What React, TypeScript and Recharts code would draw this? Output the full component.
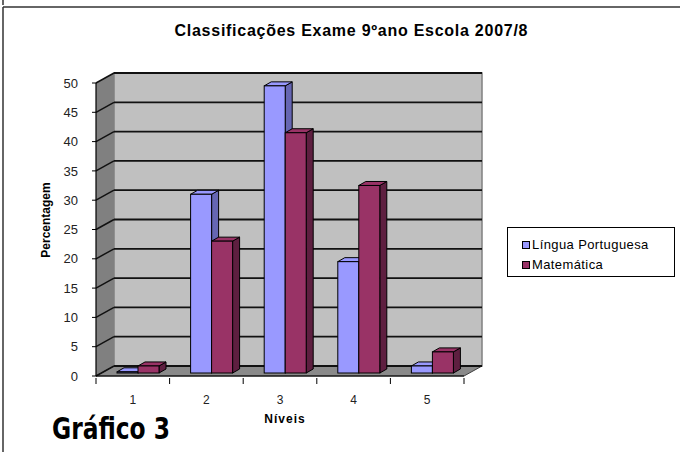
import React from 'react';
import { BarChart, Bar, XAxis, YAxis, CartesianGrid, ReferenceArea, Legend } from 'recharts';

const niveis = ['1', '2', '3', '4', '5'];
const linguaPortuguesa = [0.2, 30.5, 49, 19, 1.2];
const matematica = [1.2, 22.5, 41, 32, 3.6];
const yTicks = [0, 5, 10, 15, 20, 25, 30, 35, 40, 45, 50];

const data = niveis.map((n, i) => ({
  nivel: n,
  lp: linguaPortuguesa[i],
  mat: matematica[i],
}));

const FONT = '"Liberation Sans", Arial, sans-serif';

// 3d depth of the walls and of the bars
const WALL_DX = 18;
const WALL_DY = 10;
const BAR_DX = 7;
const BAR_DY = 4;
const BAR_SHIFT_X = 5;
const BAR_SHIFT_Y = -3;

const make3DBar = (side: string) => (props: any) => {
  const { x, y, width, height, fill } = props;
  const h = Math.max(height, 0);
  const fx = x + BAR_SHIFT_X;
  const fy = y + BAR_SHIFT_Y;
  return (
    <g>
      <polygon
        points={`${fx + width},${fy} ${fx + width + BAR_DX},${fy - BAR_DY} ${fx + width + BAR_DX},${fy + h - BAR_DY} ${fx + width},${fy + h}`}
        fill={side}
        stroke="#000"
        strokeWidth={1}
      />
      <polygon
        points={`${fx},${fy} ${fx + BAR_DX},${fy - BAR_DY} ${fx + width + BAR_DX},${fy - BAR_DY} ${fx + width},${fy}`}
        fill={fill}
        stroke="#000"
        strokeWidth={1}
      />
      <rect x={fx} y={fy} width={width} height={h} fill={fill} stroke="#000" strokeWidth={1} />
    </g>
  );
};

const Walls = (props: any) => {
  const { x, y, width, height } = props;
  const b = y + height;
  return (
    <g>
      <polygon
        points={`${x},${b} ${x},${y} ${x + WALL_DX},${y - WALL_DY} ${x + WALL_DX},${b - WALL_DY}`}
        fill="#808080"
      />
      <polygon
        points={`${x},${b} ${x + WALL_DX},${b - WALL_DY} ${x + width + WALL_DX},${b - WALL_DY} ${x + width},${b}`}
        fill="#8a8a8a"
        stroke="#404040"
        strokeWidth={1}
      />
      <rect x={x + WALL_DX} y={y - WALL_DY} width={width} height={height} fill="#C0C0C0" stroke="#808080" strokeWidth={1.5} />
    </g>
  );
};

const GridLine = (props: any) => {
  const { x1, y1, x2, y2 } = props;
  return (
    <g key={`gl-${y1}`}>
      <line x1={x1} y1={y1} x2={x1 + WALL_DX} y2={y1 - WALL_DY} stroke="#111" strokeWidth={1.5} />
      <line x1={x1 + WALL_DX} y1={y1 - WALL_DY} x2={x2 + WALL_DX} y2={y2 - WALL_DY} stroke="#111" strokeWidth={1.8} />
    </g>
  );
};

const XTick = (props: any) => {
  const { x, y, payload, index } = props;
  const half = payload.offset || 0;
  return (
    <g>
      <line x1={x - half} y1={y - 6} x2={x - half} y2={y} stroke="#000" />
      {index === niveis.length - 1 && <line x1={x + half} y1={y - 6} x2={x + half} y2={y} stroke="#000" />}
      <text x={x} y={y + 20} textAnchor="middle" fontSize={12} fontFamily={FONT} fill="#222">
        {payload.value}
      </text>
    </g>
  );
};

const LegendBox = (props: any) => {
  const { payload = [] } = props;
  return (
    <div
      style={{
        position: 'relative',
        width: 168,
        height: 50,
        border: '1px solid #000',
        boxSizing: 'border-box',
        background: '#fff',
        fontFamily: FONT,
        fontSize: 13,
      }}
    >
      {payload.map((p: any, i: number) => (
        <div key={p.value} style={{ position: 'absolute', left: 14, top: 9 + i * 20, display: 'flex', alignItems: 'center', whiteSpace: 'nowrap' }}>
          <span style={{ display: 'inline-block', width: 6, height: 6, background: p.color, border: '1px solid #000', marginRight: 2 }} />
          <span style={{ letterSpacing: 0.4 }}>{p.value}</span>
        </div>
      ))}
    </div>
  );
};

export default function App() {
  return (
    <div style={{ position: 'absolute', left: 0, top: 0, width: 680, height: 452, background: '#fff' }}>
      <BarChart
        width={680}
        height={452}
        data={data}
        margin={{ top: 83, right: 216, bottom: 46, left: 36 }}
        barGap={0}
        barSize={21}
      >
        <ReferenceArea y1={0} y2={50} shape={Walls} zIndex={-150} ifOverflow="visible" />
        <CartesianGrid vertical={false} horizontal={GridLine} />
        <XAxis
          dataKey="nivel"
          height={30}
          axisLine={{ stroke: '#000', strokeWidth: 1.2 }}
          tickLine={false}
          tick={<XTick />}
          interval={0}
        />
        <YAxis
          width={60}
          domain={[0, 50]}
          ticks={yTicks}
          interval={0}
          axisLine={{ stroke: '#000', strokeWidth: 1.2 }}
          tickLine={{ stroke: '#000' }}
          tickSize={4}
          tickMargin={14}
          tick={{ fontSize: 13, fontFamily: FONT, fill: '#222' }}
        />
        <Legend
          layout="vertical"
          align="center"
          verticalAlign="middle"
          content={<LegendBox />}
          wrapperStyle={{ left: 507, top: 227, width: 168, height: 50 }}
        />
        <Bar dataKey="lp" name="Língua  Portuguesa" fill="#9999FF" shape={make3DBar('#6666B3')} isAnimationActive={false} />
        <Bar dataKey="mat" name="Matemática" fill="#993366" shape={make3DBar('#5E1F40')} isAnimationActive={false} />
      </BarChart>
      <svg width={680} height={452} style={{ position: 'absolute', left: 0, top: 0, pointerEvents: 'none' }}>
        <line x1={3} y1={0} x2={3} y2={5} stroke="#333" strokeWidth={1.5} />
        <line x1={3} y1={7} x2={680} y2={7} stroke="#333" strokeWidth={1.5} />
        <line x1={3} y1={7} x2={3} y2={452} stroke="#333" strokeWidth={1.5} />
        <text x={351} y={36} textAnchor="middle" fontSize={16} fontWeight="bold" fontFamily={FONT} textLength={353} lengthAdjust="spacing">
          Classificações Exame 9ºano Escola 2007/8
        </text>
        <text
          transform="translate(50,220) rotate(-90)"
          textAnchor="middle"
          fontSize={12}
          fontWeight="bold"
          fontFamily={FONT}
        >
          Percentagem
        </text>
        <text x={285} y={423} textAnchor="middle" fontSize={12} fontWeight="bold" fontFamily={FONT} letterSpacing={1}>
          Níveis
        </text>
        <text
          x={52}
          y={439}
          fontSize={30}
          fontWeight="bold"
          fontFamily='"DejaVu Sans Condensed", "DejaVu Sans", sans-serif'
          textLength={118}
          lengthAdjust="spacingAndGlyphs"
        >
          Gráfico 3
        </text>
      </svg>
    </div>
  );
}
